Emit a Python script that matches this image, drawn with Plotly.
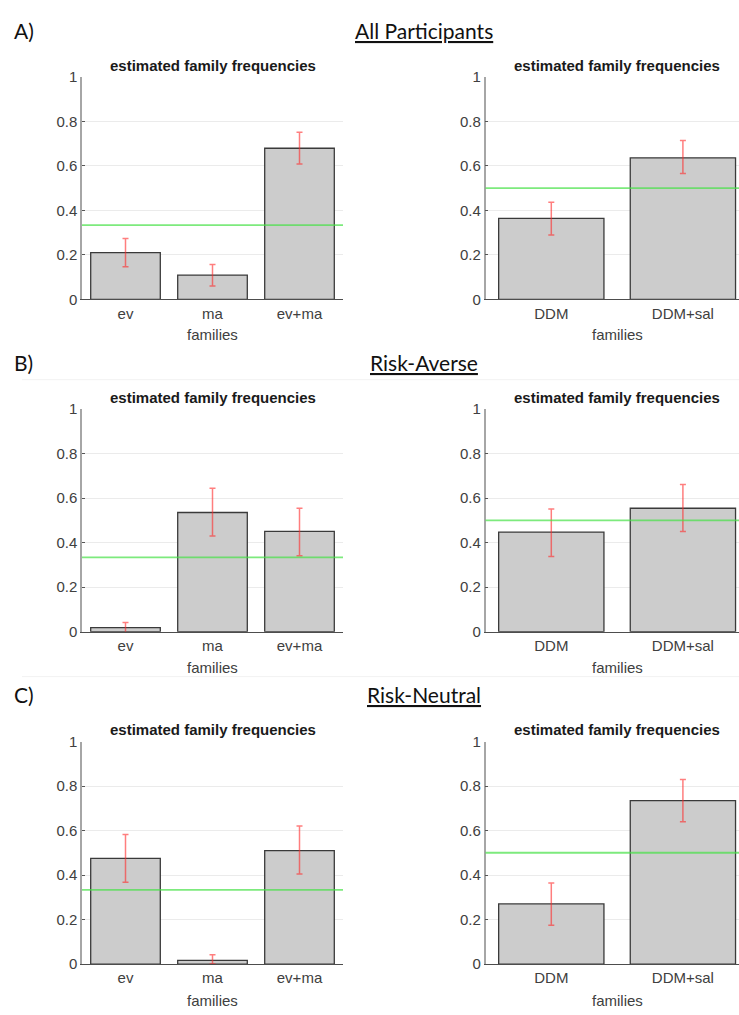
import plotly.graph_objects as go

W, H = 739, 1015

# ---------------- data ----------------
group_titles = ["All Participants", "Risk-Averse", "Risk-Neutral"]
group_letters = ["A)", "B)", "C)"]
panel_title = "estimated family frequencies"
axis_label = "families"

fam3 = ["ev", "ma", "ev+ma"]
fam2 = ["DDM", "DDM+sal"]

# left panels (ev / ma / ev+ma)
left_vals = [
    [0.21, 0.109, 0.679],
    [0.018, 0.535, 0.450],
    [0.475, 0.016, 0.510],
]
left_err_hi = [
    [0.064, 0.048, 0.072],
    [0.023, 0.109, 0.104],
    [0.107, 0.026, 0.110],
]
left_err_lo = [
    [0.063, 0.049, 0.071],
    [0.023, 0.105, 0.109],
    [0.107, 0.016, 0.105],
]

# right panels (DDM / DDM+sal)
right_vals = [
    [0.364, 0.636],
    [0.447, 0.554],
    [0.270, 0.734],
]
right_err_hi = [
    [0.072, 0.078],
    [0.104, 0.107],
    [0.094, 0.095],
]
right_err_lo = [
    [0.075, 0.070],
    [0.110, 0.104],
    [0.096, 0.095],
]

chance_left = 1 / 3
chance_right = 1 / 2
yticks = [0, 0.2, 0.4, 0.6, 0.8, 1]
ytick_text = ["0", "0.2", "0.4", "0.6", "0.8", "1"]

# ---------------- layout geometry (pixels) ----------------
row_top = [69, 406.7, 745]
row_bot = [295.3, 633.3, 971.3]
left_x = (82, 343)
right_x = (485.5, 739)
right_step = 131.6
right_range_end = 0.5 + (739 - 485.5) / right_step

heading_y = [22, 360, 697]
family_y = [331, 670, 1008]
title_y = [57, 395, 733]
separator_y = [377, 679]

def px(x):
    return x / W

def py(y):
    return 1 - y / H

FONT = "Liberation Sans"
HFONT = "Lato"
TICK_COL = "#404040"
FS = 15

fig = go.Figure()
layout = dict(
    width=W, height=H,
    margin=dict(l=0, r=0, t=0, b=0),
    paper_bgcolor="white", plot_bgcolor="white",
    showlegend=False,
    bargap=0.2,
    font=dict(family=FONT, color=TICK_COL, size=FS),
)

annotations = []
shapes = []

for r in range(3):
    for c in range(2):
        idx = r * 2 + c + 1
        xa = "x" if idx == 1 else f"x{idx}"
        ya = "y" if idx == 1 else f"y{idx}"
        xkey = "xaxis" if idx == 1 else f"xaxis{idx}"
        ykey = "yaxis" if idx == 1 else f"yaxis{idx}"
        if c == 0:
            cats, vals, ehi, elo = fam3, left_vals[r], left_err_hi[r], left_err_lo[r]
            dom = left_x
            xr = [0.5, 3.5]
            chance = chance_left
            center = (dom[0] + dom[1]) / 2
        else:
            cats, vals, ehi, elo = fam2, right_vals[r], right_err_hi[r], right_err_lo[r]
            dom = right_x
            xr = [0.5, right_range_end]
            chance = chance_right
            center = dom[0] + right_step * 1.0
        xs = list(range(1, len(cats) + 1))
        fig.add_trace(go.Bar(
            x=xs, y=vals, xaxis=xa, yaxis=ya,
            marker=dict(color="#cccccc", line=dict(color="#3a3a3a", width=1.3)),
            width=0.8,
            error_y=dict(type="data", array=ehi, arrayminus=elo, symmetric=False,
                         color="rgba(255,40,40,0.6)", thickness=1.5, width=3),
        ))
        layout[xkey] = dict(
            domain=[px(dom[0]), px(dom[1])], range=xr, anchor=ya,
            tickmode="array", tickvals=xs, ticktext=cats,
            showline=True, linecolor="#4d4d4d", linewidth=1.3,
            ticks="", showgrid=False, zeroline=False, fixedrange=True,
            tickfont=dict(size=FS, color=TICK_COL, family=FONT),
        )
        layout[ykey] = dict(
            domain=[py(row_bot[r]), py(row_top[r])], range=[0, 1], anchor=xa,
            tickmode="array", tickvals=yticks, ticktext=ytick_text,
            showline=True, linecolor="#a6a6a6", linewidth=1.5,
            ticks="inside", ticklen=3, tickcolor="#555555",
            showgrid=True, gridcolor="#ebebeb", gridwidth=1, zeroline=False,
            fixedrange=True,
            tickfont=dict(size=FS, color=TICK_COL, family=FONT),
        )
        shapes.append(dict(
            type="line", xref=f"{xa} domain", yref=ya,
            x0=0, x1=1, y0=chance, y1=chance,
            line=dict(color="rgba(70,225,70,0.7)", width=1.8), layer="above",
        ))
        annotations.append(dict(
            text=f"<b>{panel_title}</b>", x=px(center), y=py(title_y[r]),
            xref="paper", yref="paper", showarrow=False,
            xanchor="center", yanchor="middle",
            font=dict(size=FS, color="#1a1a1a", family=FONT),
        ))
        annotations.append(dict(
            text=axis_label, x=px(center), y=py(family_y[r]),
            xref="paper", yref="paper", showarrow=False,
            xanchor="center", yanchor="middle",
            font=dict(size=FS, color=TICK_COL, family=FONT),
        ))
    annotations.append(dict(
        text=group_letters[r], x=px(12), y=py(heading_y[r]),
        xref="paper", yref="paper", showarrow=False,
        xanchor="left", yanchor="middle",
        font=dict(size=21, color="#111111", family=HFONT),
    ))
    annotations.append(dict(
        text=f"<u>{group_titles[r]}</u>", x=px(424), y=py(heading_y[r]),
        xref="paper", yref="paper", showarrow=False,
        xanchor="center", yanchor="middle",
        font=dict(size=21, color="#111111", family=HFONT),
    ))

# faint separators between figure rows (as in the source image)
for y in separator_y:
    shapes.append(dict(type="line", xref="paper", yref="paper", x0=px(22), x1=1,
                       y0=py(y), y1=py(y), line=dict(color="#f2f2f2", width=1),
                       layer="below"))

layout["annotations"] = annotations
layout["shapes"] = shapes
fig.update_layout(**layout)
fig.write_html("out.html", config={"displayModeBar": False})
